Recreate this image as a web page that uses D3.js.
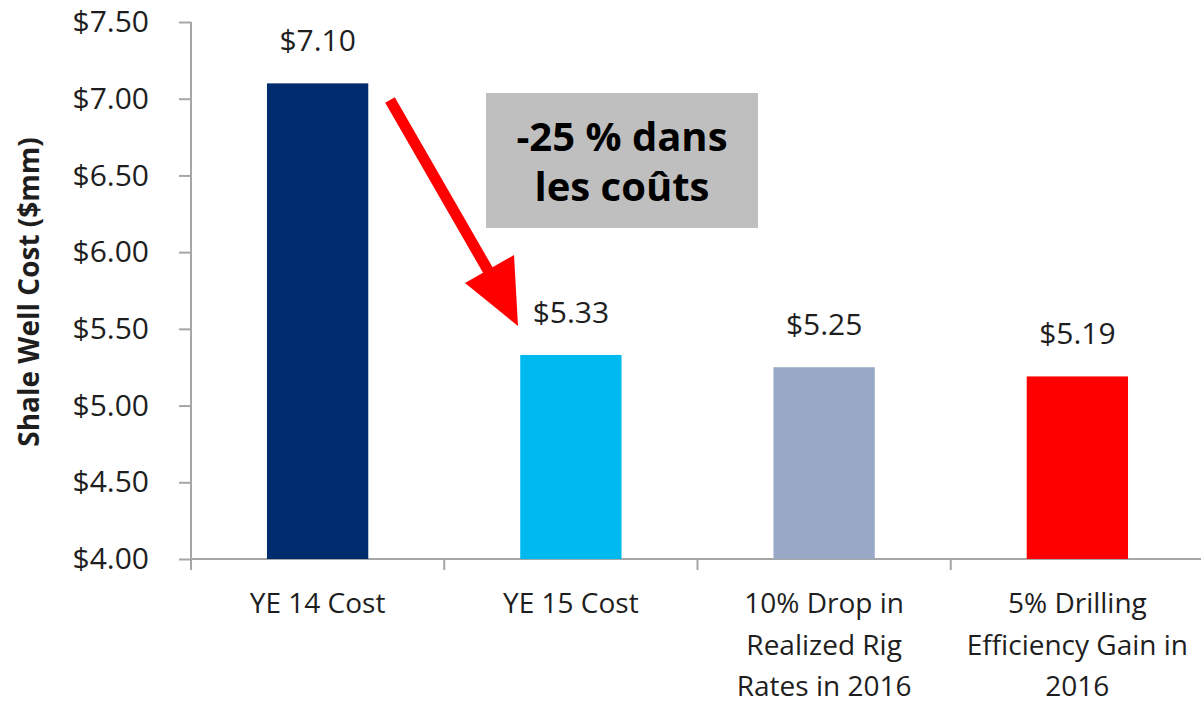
<!DOCTYPE html>
<html>
<head>
<meta charset="utf-8">
<script src="https://cdn.jsdelivr.net/npm/d3@7"></script>
<style>
  body { margin: 0; background: #fff; }
  svg { display: block; font-family: "Open Sans", sans-serif; }
</style>
</head>
<body>
<svg id="chart" width="1201" height="705"></svg>
<script>
// values
var categories = ["YE 14 Cost", "YE 15 Cost", "10% Drop in Realized Rig Rates in 2016", "5% Drilling Efficiency Gain in 2016"]
var categoryLines = [["YE 14 Cost"], ["YE 15 Cost"], ["10% Drop in", "Realized Rig", "Rates in 2016"], ["5% Drilling", "Efficiency Gain in", "2016"]]
var costs = [7.10, 5.33, 5.25, 5.19]
var barColors = ["#002c6d", "#00b9ef", "#98a9c7", "#ff0000"]
var yTicks = [4.0, 4.5, 5.0, 5.5, 6.0, 6.5, 7.0, 7.5]
var yTitle = "Shale Well Cost ($mm)"
var noteLines = ["-25 % dans", "les coûts"]

var svg = d3.select("#chart")

var y = d3.scaleLinear().domain([4, 7.5]).range([559, 22])
var x = d3.scaleBand().domain(categories).range([191, 1204]).paddingInner(0.6).paddingOuter(0.3)

var axisColor = "#a6a6a6"
var textColor = "#1e1e1e"

// y axis
var yAxis = d3.axisLeft(y)
    .tickValues(yTicks)
    .tickSize(12)
    .tickPadding(30)
    .tickFormat(function(d) { return "$" + d3.format(".2f")(d) })

var gy = svg.append("g")
    .attr("transform", "translate(191,0)")
    .call(yAxis)
gy.select(".domain").attr("stroke", axisColor).attr("stroke-width", 2).attr("d", "M0,22V570")
gy.selectAll(".tick line").attr("stroke", axisColor).attr("stroke-width", 2)
gy.selectAll(".tick text")
    .attr("fill", textColor)
    .style("font-size", "30px")
    .style("font-family", "Open Sans")

// x axis baseline and category separators
var gx = svg.append("g")
gx.append("line")
    .attr("x1", 191).attr("x2", 1201)
    .attr("y1", y(4)).attr("y2", y(4))
    .attr("stroke", axisColor).attr("stroke-width", 2)

gx.selectAll(".sep")
    .data(categories.slice(1))
    .enter()
    .append("line")
    .attr("class", "sep")
    .attr("x1", function(d) { return x(d) - x.step() * 0.3 })
    .attr("x2", function(d) { return x(d) - x.step() * 0.3 })
    .attr("y1", y(4)).attr("y2", y(4) + 11)
    .attr("stroke", axisColor).attr("stroke-width", 2)

// bars
svg.selectAll(".bar")
    .data(costs)
    .enter()
    .append("rect")
    .attr("class", "bar")
    .attr("x", function(d, i) { return x(categories[i]) })
    .attr("width", x.bandwidth())
    .attr("y", function(d) { return y(d) })
    .attr("height", function(d) { return y(4) - y(d) })
    .attr("fill", function(d, i) { return barColors[i] })

// value labels
svg.selectAll(".val")
    .data(costs)
    .enter()
    .append("text")
    .attr("class", "val")
    .attr("x", function(d, i) { return x(categories[i]) + x.bandwidth() / 2 })
    .attr("y", function(d) { return y(d) - 32 })
    .attr("text-anchor", "middle")
    .attr("fill", textColor)
    .style("font-size", "30px")
    .text(function(d) { return "$" + d3.format(".2f")(d) })

// category labels
var cat = svg.selectAll(".cat")
    .data(categoryLines)
    .enter()
    .append("text")
    .attr("class", "cat")
    .attr("text-anchor", "middle")
    .attr("fill", textColor)
    .style("font-size", "28px")

cat.selectAll("tspan")
    .data(function(d, i) { return d.map(function(s) { return {s: s, i: i} }) })
    .enter()
    .append("tspan")
    .attr("x", function(d) { return x(categories[d.i]) + x.bandwidth() / 2 })
    .attr("y", function(d, j) { return 613 + j * 41.5 })
    .text(function(d) { return d.s })

// y title
svg.append("text")
    .attr("transform", "translate(39,292) rotate(-90)")
    .attr("text-anchor", "middle")
    .attr("fill", textColor)
    .style("font-size", "28px")
    .style("font-weight", "bold")
    .text(yTitle)

// annotation box
svg.append("rect")
    .attr("x", 486).attr("y", 93)
    .attr("width", 272).attr("height", 135)
    .attr("fill", "#bfbfbf")

svg.append("text")
    .attr("text-anchor", "middle")
    .attr("fill", "#000")
    .style("font-size", "40px")
    .style("font-weight", "bold")
    .selectAll("tspan")
    .data(noteLines)
    .enter()
    .append("tspan")
    .attr("x", 622)
    .attr("y", function(d, i) { return 151 + i * 50 })
    .text(function(d) { return d })

// red arrow from YE14 bar down to YE15
var arrow = svg.append("g").attr("fill", "#ff0000")
arrow.append("line")
    .attr("x1", 390).attr("y1", 100)
    .attr("x2", 497).attr("y2", 286)
    .attr("stroke", "#ff0000").attr("stroke-width", 11)
arrow.append("polygon")
    .attr("points", "518,326 465,283 514,255")
</script>
</body>
</html>
